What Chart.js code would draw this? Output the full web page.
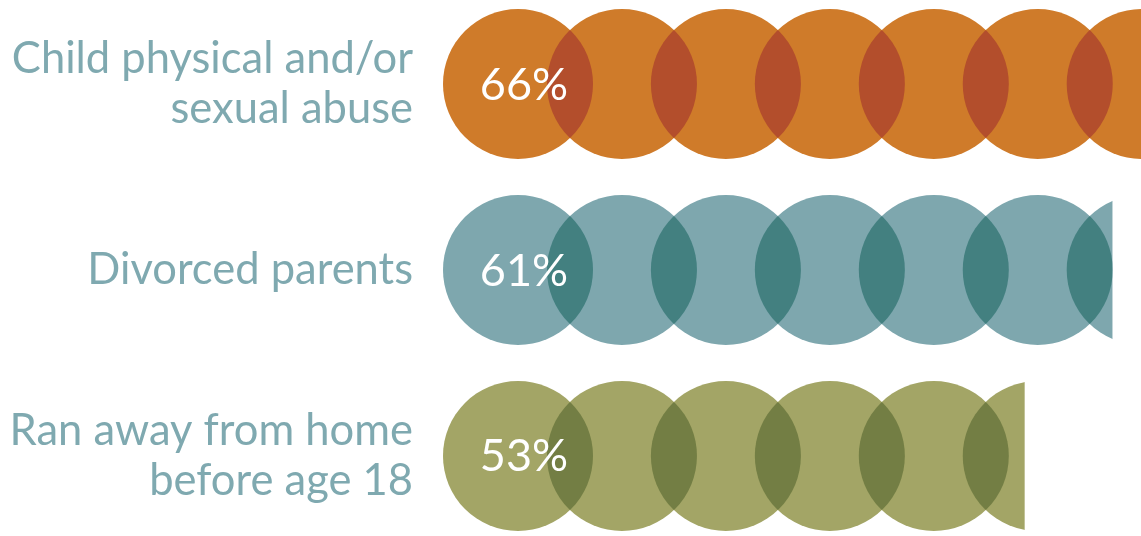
<!DOCTYPE html>
<html>
<head>
<meta charset="utf-8">
<script src="https://cdn.jsdelivr.net/npm/chart.js@4.4.1/dist/chart.umd.min.js"></script>
<style>
  html, body { margin: 0; padding: 0; background: #ffffff; overflow: hidden; }
  canvas { display: block; }
</style>
</head>
<body>
<canvas id="c" width="1141" height="536"></canvas>
<script>
// ---- data ----
const categories = [
  ["Child physical and/or", "sexual abuse"],
  ["Divorced parents"],
  ["Ran away from home", "before age 18"]
];
const values = [66, 61, 53];
const valueLabels = ["66%", "61%", "53%"];
const fillColors = ["#CF7B2A", "#7EA7AE", "#A3A566"];
const overlapColors = ["#B34E2C", "#438080", "#737E44"];

// ---- circles plugin: draws overlapping discs inside each bar's extent ----
const circleBars = {
  id: 'circleBars',
  afterDatasetsDraw(chart) {
    const ctx = chart.ctx;
    const area = chart.chartArea;
    const meta = chart.getDatasetMeta(0);
    meta.data.forEach((bar, i) => {
      const p = bar.getProps(['x', 'y', 'base', 'height'], true);
      const r = p.height / 2;
      const step = p.height * 0.693;
      const right = Math.min(p.x, area.right);
      ctx.save();
      ctx.beginPath();
      ctx.rect(p.base, p.y - r - 1, right - p.base, p.height + 2);
      ctx.clip();
      const centers = [];
      for (let cx = p.base + r; cx - r < p.x; cx += step) centers.push(cx);
      ctx.fillStyle = fillColors[i];
      centers.forEach(cx => {
        ctx.beginPath();
        ctx.arc(cx, p.y, r, 0, Math.PI * 2);
        ctx.fill();
      });
      for (let k = 1; k < centers.length; k++) {
        ctx.save();
        ctx.beginPath();
        ctx.arc(centers[k - 1], p.y, r, 0, Math.PI * 2);
        ctx.clip();
        ctx.fillStyle = overlapColors[i];
        ctx.beginPath();
        ctx.arc(centers[k], p.y, r, 0, Math.PI * 2);
        ctx.fill();
        ctx.restore();
      }
      ctx.restore();
      // value label
      ctx.save();
      ctx.fillStyle = '#ffffff';
      ctx.font = '45px Lato';
      ctx.textAlign = 'center';
      ctx.textBaseline = 'middle';
      ctx.fillText(valueLabels[i], p.base + r + 6, p.y + 1);
      ctx.restore();
    });
  }
};

new Chart(document.getElementById('c'), {
  type: 'bar',
  data: {
    labels: categories,
    datasets: [{
      data: values,
      backgroundColor: 'rgba(0,0,0,0)',
      borderWidth: 0,
      barThickness: 150
    }]
  },
  options: {
    indexAxis: 'y',
    responsive: false,
    animation: false,
    events: [],
    layout: { padding: { top: 84, bottom: 78, left: 0, right: 0 } },
    plugins: { legend: { display: false }, tooltip: { enabled: false } },
    scales: {
      x: {
        display: false,
        min: 0,
        max: 63.6
      },
      y: {
        type: 'category',
        offset: false,
        grid: { display: false, drawTicks: false },
        border: { display: false },
        afterFit(scale) { scale.width = 443; },
        ticks: {
          color: '#7FA9B0',
          padding: 30,
          font: { family: 'Lato', size: 43.5, lineHeight: 1.15 }
        }
      }
    }
  },
  plugins: [circleBars]
});
</script>
</body>
</html>
